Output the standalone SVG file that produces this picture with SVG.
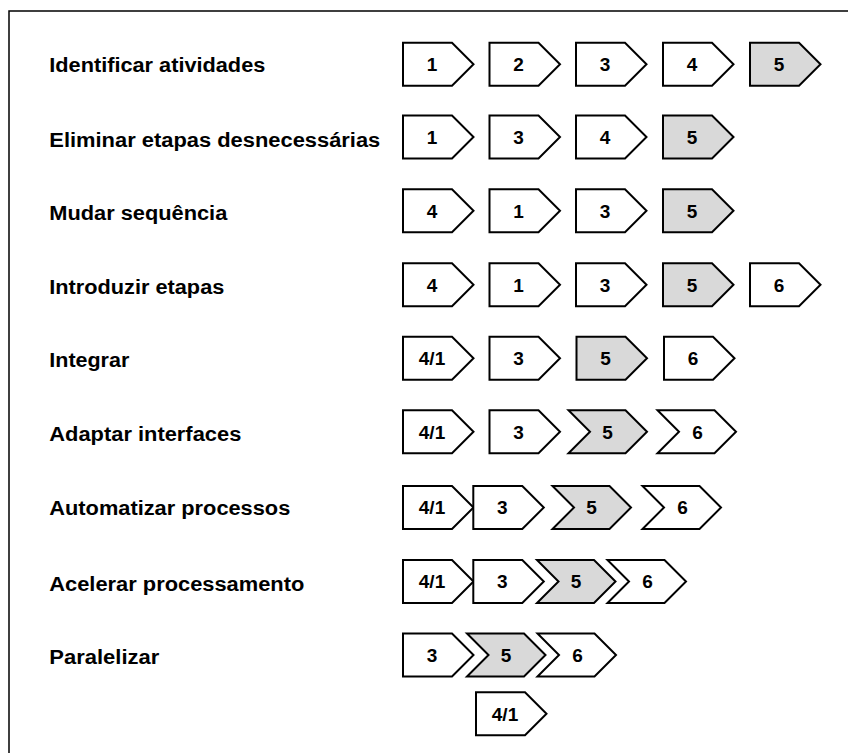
<svg xmlns="http://www.w3.org/2000/svg" xmlns:xlink="http://www.w3.org/1999/xlink" width="848" height="753" viewBox="0 0 848 753">
  <style>
    .lbl { font-family: "Liberation Sans", Arial, sans-serif; font-weight: bold; font-size: 20px; fill: #000; }
    .num { font-family: "Liberation Sans", Arial, sans-serif; font-weight: bold; font-size: 19px; fill: #000; text-anchor: middle; }
    .step { fill: #ffffff; stroke: #000; stroke-width: 2; stroke-linejoin: miter; }
    .hl { fill: #d9d9d9; }
    .frame { fill: none; stroke: #000; stroke-width: 1.5; }
  </style>
  <defs>
    <!-- pentagon step: flat left side, arrow point to the right (origin = top-left) -->
    <path id="pent" d="M0,0 H49 L70.5,21.5 L49,43 H0 Z"/>
    <!-- chevron step: notched left side -->
    <path id="chev" d="M0,0 H57 L78.5,21.5 L57,43 H0 L21.5,21.5 Z"/>
  </defs>

  <rect width="848" height="753" fill="#ffffff"/>
  <path class="frame" d="M9,753 V11 H848"/>

  <!-- row labels -->
  <g id="labels">
    <text class="lbl" x="49.3" y="72.3" textLength="216" lengthAdjust="spacingAndGlyphs">Identificar atividades</text>
    <text class="lbl" x="49.3" y="146.7" textLength="331" lengthAdjust="spacingAndGlyphs">Eliminar etapas desnecessárias</text>
    <text class="lbl" x="49.3" y="219.5" textLength="178" lengthAdjust="spacingAndGlyphs">Mudar sequência</text>
    <text class="lbl" x="49.3" y="293.5" textLength="175" lengthAdjust="spacingAndGlyphs">Introduzir etapas</text>
    <text class="lbl" x="49.3" y="366.8" textLength="80" lengthAdjust="spacingAndGlyphs">Integrar</text>
    <text class="lbl" x="49.3" y="440.7" textLength="192" lengthAdjust="spacingAndGlyphs">Adaptar interfaces</text>
    <text class="lbl" x="49.3" y="515" textLength="241" lengthAdjust="spacingAndGlyphs">Automatizar processos</text>
    <text class="lbl" x="49.3" y="590.7" textLength="255" lengthAdjust="spacingAndGlyphs">Acelerar processamento</text>
    <text class="lbl" x="49.3" y="663.5" textLength="110" lengthAdjust="spacingAndGlyphs">Paralelizar</text>
  </g>

  <!-- row 1: Identificar atividades -->
  <g id="r1">
    <g id="r1-1" transform="translate(403,42.7)"><use href="#pent" class="step"/><text class="num" x="29" y="28.3">1</text></g>
    <g id="r1-2" transform="translate(489.5,42.7)"><use href="#pent" class="step"/><text class="num" x="29" y="28.3">2</text></g>
    <g id="r1-3" transform="translate(576,42.7)"><use href="#pent" class="step"/><text class="num" x="29" y="28.3">3</text></g>
    <g id="r1-4" transform="translate(663,42.7)"><use href="#pent" class="step"/><text class="num" x="29" y="28.3">4</text></g>
    <g id="r1-5" transform="translate(750,42.7)"><use href="#pent" class="step hl"/><text class="num" x="29" y="28.3">5</text></g>
  </g>

  <!-- row 2: Eliminar etapas desnecessárias -->
  <g id="r2">
    <g id="r2-1" transform="translate(403,115.5)"><use href="#pent" class="step"/><text class="num" x="29" y="28.3">1</text></g>
    <g id="r2-3" transform="translate(489.5,115.5)"><use href="#pent" class="step"/><text class="num" x="29" y="28.3">3</text></g>
    <g id="r2-4" transform="translate(576,115.5)"><use href="#pent" class="step"/><text class="num" x="29" y="28.3">4</text></g>
    <g id="r2-5" transform="translate(663,115.5)"><use href="#pent" class="step hl"/><text class="num" x="29" y="28.3">5</text></g>
  </g>

  <!-- row 3: Mudar sequência -->
  <g id="r3">
    <g id="r3-4" transform="translate(403,189.3)"><use href="#pent" class="step"/><text class="num" x="29" y="28.3">4</text></g>
    <g id="r3-1" transform="translate(489.5,189.3)"><use href="#pent" class="step"/><text class="num" x="29" y="28.3">1</text></g>
    <g id="r3-3" transform="translate(576,189.3)"><use href="#pent" class="step"/><text class="num" x="29" y="28.3">3</text></g>
    <g id="r3-5" transform="translate(663,189.3)"><use href="#pent" class="step hl"/><text class="num" x="29" y="28.3">5</text></g>
  </g>

  <!-- row 4: Introduzir etapas -->
  <g id="r4">
    <g id="r4-4" transform="translate(403,263.3)"><use href="#pent" class="step"/><text class="num" x="29" y="28.3">4</text></g>
    <g id="r4-1" transform="translate(489.5,263.3)"><use href="#pent" class="step"/><text class="num" x="29" y="28.3">1</text></g>
    <g id="r4-3" transform="translate(576,263.3)"><use href="#pent" class="step"/><text class="num" x="29" y="28.3">3</text></g>
    <g id="r4-5" transform="translate(663,263.3)"><use href="#pent" class="step hl"/><text class="num" x="29" y="28.3">5</text></g>
    <g id="r4-6" transform="translate(750,263.3)"><use href="#pent" class="step"/><text class="num" x="29" y="28.3">6</text></g>
  </g>

  <!-- row 5: Integrar -->
  <g id="r5">
    <g id="r5-41" transform="translate(403,336.8)"><use href="#pent" class="step"/><text class="num" x="29" y="28.3">4/1</text></g>
    <g id="r5-3" transform="translate(489.5,336.8)"><use href="#pent" class="step"/><text class="num" x="29" y="28.3">3</text></g>
    <g id="r5-5" transform="translate(576.5,336.8)"><use href="#pent" class="step hl"/><text class="num" x="29" y="28.3">5</text></g>
    <g id="r5-6" transform="translate(664,336.8)"><use href="#pent" class="step"/><text class="num" x="29" y="28.3">6</text></g>
  </g>

  <!-- row 6: Adaptar interfaces -->
  <g id="r6">
    <g id="r6-41" transform="translate(403,410.3)"><use href="#pent" class="step"/><text class="num" x="29" y="28.3">4/1</text></g>
    <g id="r6-3" transform="translate(489.5,410.3)"><use href="#pent" class="step"/><text class="num" x="29" y="28.3">3</text></g>
    <g id="r6-5" transform="translate(568.5,410.3)"><use href="#chev" class="step hl"/><text class="num" x="39" y="28.3">5</text></g>
    <g id="r6-6" transform="translate(657.5,410.3)"><use href="#chev" class="step"/><text class="num" x="40" y="28.3">6</text></g>
  </g>

  <!-- row 7: Automatizar processos -->
  <g id="r7">
    <g id="r7-41" transform="translate(403,486)"><use href="#pent" class="step"/><text class="num" x="29" y="28.3">4/1</text></g>
    <g id="r7-3" transform="translate(473.3,486)"><use href="#pent" class="step"/><text class="num" x="29" y="28.3">3</text></g>
    <g id="r7-5" transform="translate(552.5,486)"><use href="#chev" class="step hl"/><text class="num" x="39" y="28.3">5</text></g>
    <g id="r7-6" transform="translate(642.5,486)"><use href="#chev" class="step"/><text class="num" x="40" y="28.3">6</text></g>
  </g>

  <!-- row 8: Acelerar processamento -->
  <g id="r8">
    <g id="r8-41" transform="translate(403,560)"><use href="#pent" class="step"/><text class="num" x="29" y="28.3">4/1</text></g>
    <g id="r8-3" transform="translate(473.3,560)"><use href="#pent" class="step"/><text class="num" x="29" y="28.3">3</text></g>
    <g id="r8-5" transform="translate(537,560)"><use href="#chev" class="step hl"/><text class="num" x="39" y="28.3">5</text></g>
    <g id="r8-6" transform="translate(607.5,560)"><use href="#chev" class="step"/><text class="num" x="40" y="28.3">6</text></g>
  </g>

  <!-- row 9: Paralelizar (4/1 runs in parallel beneath) -->
  <g id="r9">
    <g id="r9-3" transform="translate(403,633.5)"><use href="#pent" class="step"/><text class="num" x="29" y="28.3">3</text></g>
    <g id="r9-5" transform="translate(467,633.5)"><use href="#chev" class="step hl"/><text class="num" x="39" y="28.3">5</text></g>
    <g id="r9-6" transform="translate(537.5,633.5)"><use href="#chev" class="step"/><text class="num" x="40" y="28.3">6</text></g>
    <g id="r9-41" transform="translate(476,692.3)"><use href="#pent" class="step"/><text class="num" x="29" y="28.3">4/1</text></g>
  </g>

  <!-- no connectors in this chart -->
  <g id="connectors"/>
</svg>
